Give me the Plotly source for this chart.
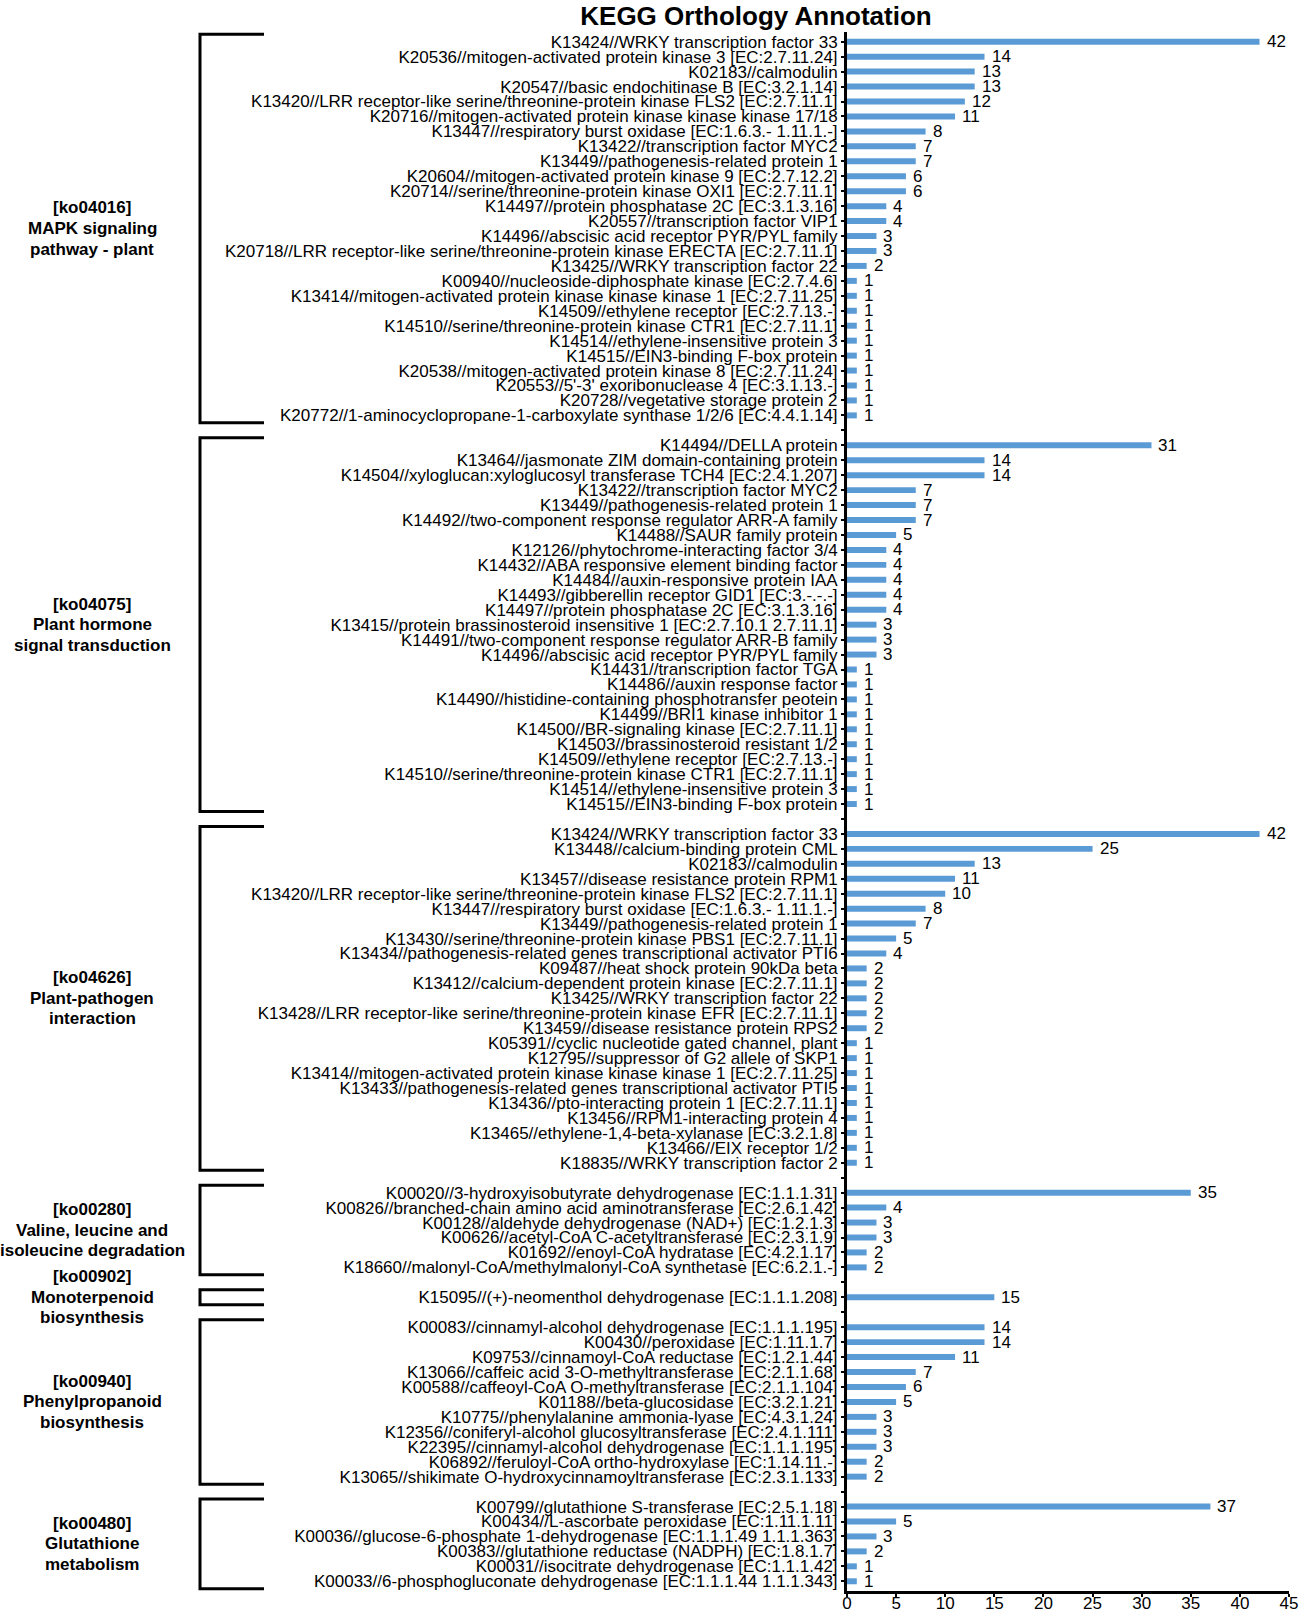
import plotly.graph_objects as go

# ---------------- data ----------------
group_names = [
    ["[ko04016]", "MAPK signaling", "pathway - plant"],
    ["[ko04075]", "Plant hormone", "signal transduction"],
    ["[ko04626]", "Plant-pathogen", "interaction"],
    ["[ko00280]", "Valine, leucine and", "isoleucine degradation"],
    ["[ko00902]", "Monoterpenoid", "biosynthesis"],
    ["[ko00940]", "Phenylpropanoid", "biosynthesis"],
    ["[ko00480]", "Glutathione", "metabolism"],
]

mapk_labels = [
    "K13424//WRKY transcription factor 33",
    "K20536//mitogen-activated protein kinase 3 [EC:2.7.11.24]",
    "K02183//calmodulin",
    "K20547//basic endochitinase B [EC:3.2.1.14]",
    "K13420//LRR receptor-like serine/threonine-protein kinase FLS2 [EC:2.7.11.1]",
    "K20716//mitogen-activated protein kinase kinase kinase 17/18",
    "K13447//respiratory burst oxidase [EC:1.6.3.- 1.11.1.-]",
    "K13422//transcription factor MYC2",
    "K13449//pathogenesis-related protein 1",
    "K20604//mitogen-activated protein kinase 9 [EC:2.7.12.2]",
    "K20714//serine/threonine-protein kinase OXI1 [EC:2.7.11.1]",
    "K14497//protein phosphatase 2C [EC:3.1.3.16]",
    "K20557//transcription factor VIP1",
    "K14496//abscisic acid receptor PYR/PYL family",
    "K20718//LRR receptor-like serine/threonine-protein kinase ERECTA [EC:2.7.11.1]",
    "K13425//WRKY transcription factor 22",
    "K00940//nucleoside-diphosphate kinase [EC:2.7.4.6]",
    "K13414//mitogen-activated protein kinase kinase kinase 1 [EC:2.7.11.25]",
    "K14509//ethylene receptor [EC:2.7.13.-]",
    "K14510//serine/threonine-protein kinase CTR1 [EC:2.7.11.1]",
    "K14514//ethylene-insensitive protein 3",
    "K14515//EIN3-binding F-box protein",
    "K20538//mitogen-activated protein kinase 8 [EC:2.7.11.24]",
    "K20553//5'-3' exoribonuclease 4 [EC:3.1.13.-]",
    "K20728//vegetative storage protein 2",
    "K20772//1-aminocyclopropane-1-carboxylate synthase 1/2/6 [EC:4.4.1.14]",
]
mapk_values = [42, 14, 13, 13, 12, 11, 8, 7, 7, 6, 6, 4, 4, 3, 3, 2, 1, 1, 1, 1, 1, 1, 1, 1, 1, 1]

hormone_labels = [
    "K14494//DELLA protein",
    "K13464//jasmonate ZIM domain-containing protein",
    "K14504//xyloglucan:xyloglucosyl transferase TCH4 [EC:2.4.1.207]",
    "K13422//transcription factor MYC2",
    "K13449//pathogenesis-related protein 1",
    "K14492//two-component response regulator ARR-A family",
    "K14488//SAUR family protein",
    "K12126//phytochrome-interacting factor 3/4",
    "K14432//ABA responsive element binding factor",
    "K14484//auxin-responsive protein IAA",
    "K14493//gibberellin receptor GID1 [EC:3.-.-.-]",
    "K14497//protein phosphatase 2C [EC:3.1.3.16]",
    "K13415//protein brassinosteroid insensitive 1 [EC:2.7.10.1 2.7.11.1]",
    "K14491//two-component response regulator ARR-B family",
    "K14496//abscisic acid receptor PYR/PYL family",
    "K14431//transcription factor TGA",
    "K14486//auxin response factor",
    "K14490//histidine-containing phosphotransfer peotein",
    "K14499//BRI1 kinase inhibitor 1",
    "K14500//BR-signaling kinase [EC:2.7.11.1]",
    "K14503//brassinosteroid resistant 1/2",
    "K14509//ethylene receptor [EC:2.7.13.-]",
    "K14510//serine/threonine-protein kinase CTR1 [EC:2.7.11.1]",
    "K14514//ethylene-insensitive protein 3",
    "K14515//EIN3-binding F-box protein",
]
hormone_values = [31, 14, 14, 7, 7, 7, 5, 4, 4, 4, 4, 4, 3, 3, 3, 1, 1, 1, 1, 1, 1, 1, 1, 1, 1]

pathogen_labels = [
    "K13424//WRKY transcription factor 33",
    "K13448//calcium-binding protein CML",
    "K02183//calmodulin",
    "K13457//disease resistance protein RPM1",
    "K13420//LRR receptor-like serine/threonine-protein kinase FLS2 [EC:2.7.11.1]",
    "K13447//respiratory burst oxidase [EC:1.6.3.- 1.11.1.-]",
    "K13449//pathogenesis-related protein 1",
    "K13430//serine/threonine-protein kinase PBS1 [EC:2.7.11.1]",
    "K13434//pathogenesis-related genes transcriptional activator PTI6",
    "K09487//heat shock protein 90kDa beta",
    "K13412//calcium-dependent protein kinase [EC:2.7.11.1]",
    "K13425//WRKY transcription factor 22",
    "K13428//LRR receptor-like serine/threonine-protein kinase EFR [EC:2.7.11.1]",
    "K13459//disease resistance protein RPS2",
    "K05391//cyclic nucleotide gated channel, plant",
    "K12795//suppressor of G2 allele of SKP1",
    "K13414//mitogen-activated protein kinase kinase kinase 1 [EC:2.7.11.25]",
    "K13433//pathogenesis-related genes transcriptional activator PTI5",
    "K13436//pto-interacting protein 1 [EC:2.7.11.1]",
    "K13456//RPM1-interacting protein 4",
    "K13465//ethylene-1,4-beta-xylanase [EC:3.2.1.8]",
    "K13466//EIX receptor 1/2",
    "K18835//WRKY transcription factor 2",
]
pathogen_values = [42, 25, 13, 11, 10, 8, 7, 5, 4, 2, 2, 2, 2, 2, 1, 1, 1, 1, 1, 1, 1, 1, 1]

valine_labels = [
    "K00020//3-hydroxyisobutyrate dehydrogenase [EC:1.1.1.31]",
    "K00826//branched-chain amino acid aminotransferase [EC:2.6.1.42]",
    "K00128//aldehyde dehydrogenase (NAD+) [EC:1.2.1.3]",
    "K00626//acetyl-CoA C-acetyltransferase [EC:2.3.1.9]",
    "K01692//enoyl-CoA hydratase [EC:4.2.1.17]",
    "K18660//malonyl-CoA/methylmalonyl-CoA synthetase [EC:6.2.1.-]",
]
valine_values = [35, 4, 3, 3, 2, 2]

mono_labels = ["K15095//(+)-neomenthol dehydrogenase [EC:1.1.1.208]"]
mono_values = [15]

phenyl_labels = [
    "K00083//cinnamyl-alcohol dehydrogenase [EC:1.1.1.195]",
    "K00430//peroxidase [EC:1.11.1.7]",
    "K09753//cinnamoyl-CoA reductase [EC:1.2.1.44]",
    "K13066//caffeic acid 3-O-methyltransferase [EC:2.1.1.68]",
    "K00588//caffeoyl-CoA O-methyltransferase [EC:2.1.1.104]",
    "K01188//beta-glucosidase [EC:3.2.1.21]",
    "K10775//phenylalanine ammonia-lyase [EC:4.3.1.24]",
    "K12356//coniferyl-alcohol glucosyltransferase [EC:2.4.1.111]",
    "K22395//cinnamyl-alcohol dehydrogenase [EC:1.1.1.195]",
    "K06892//feruloyl-CoA ortho-hydroxylase [EC:1.14.11.-]",
    "K13065//shikimate O-hydroxycinnamoyltransferase [EC:2.3.1.133]",
]
phenyl_values = [14, 14, 11, 7, 6, 5, 3, 3, 3, 2, 2]

glut_labels = [
    "K00799//glutathione S-transferase [EC:2.5.1.18]",
    "K00434//L-ascorbate peroxidase [EC:1.11.1.11]",
    "K00036//glucose-6-phosphate 1-dehydrogenase [EC:1.1.1.49 1.1.1.363]",
    "K00383//glutathione reductase (NADPH) [EC:1.8.1.7]",
    "K00031//isocitrate dehydrogenase [EC:1.1.1.42]",
    "K00033//6-phosphogluconate dehydrogenase [EC:1.1.1.44 1.1.1.343]",
]
glut_values = [37, 5, 3, 2, 1, 1]

x_tick_values = [0, 5, 10, 15, 20, 25, 30, 35, 40, 45]

groups = [
    (group_names[0], mapk_labels, mapk_values),
    (group_names[1], hormone_labels, hormone_values),
    (group_names[2], pathogen_labels, pathogen_values),
    (group_names[3], valine_labels, valine_values),
    (group_names[4], mono_labels, mono_values),
    (group_names[5], phenyl_labels, phenyl_values),
    (group_names[6], glut_labels, glut_values),
]

# ---------------- build slots (one blank slot between groups) ----------------
ypos, vals = [], []
tickvals, ticktext = [], []
spans = []
slot = 0
for gi, (name, labs, vs) in enumerate(groups):
    if gi > 0:
        tickvals.append(slot)
        ticktext.append("")
        slot += 1
    start = slot
    for lab, v in zip(labs, vs):
        ypos.append(slot)
        vals.append(v)
        tickvals.append(slot)
        ticktext.append(lab)
        slot += 1
    spans.append((name, start, slot - 1))
n_slots = slot

# ---------------- layout geometry ----------------
W, H = 1299, 1613
PL, PR = 847, 1289          # plot area left/right pixel
ROW = 14.95
FIRST = 41.5
PADS = 0.65
top = FIRST - PADS * ROW
bottom = FIRST + (n_slots - 1 + PADS) * ROW
GROUP_LINE = 20.6


def px_to_paper(px):
    return (px - PL) / (PR - PL)


FONT = "Arial, Liberation Sans, Helvetica, sans-serif"
BLUE = "#5B9BD5"

fig = go.Figure()
fig.add_trace(go.Bar(
    x=vals, y=ypos, orientation="h", width=0.4,
    marker=dict(color=BLUE, line=dict(width=0)),
    hoverinfo="x+y", showlegend=False,
))

annotations = []
for v, y in zip(vals, ypos):
    annotations.append(dict(
        x=v, y=y, xref="x", yref="y", text=str(v), showarrow=False,
        xanchor="left", yanchor="middle", xshift=5,
        font=dict(family=FONT, size=17, color="black"),
    ))

shapes = []
BX0, BX1 = 200, 264
for lines, s, e in spans:
    x0, x1 = px_to_paper(BX0), px_to_paper(BX1)
    y0, y1 = s - 0.5, e + 0.5
    shapes.append(dict(
        type="path", xref="paper", yref="y",
        path=f"M {x1},{y0} L {x0},{y0} L {x0},{y1} L {x1},{y1}",
        line=dict(color="black", width=3),
    ))
    nl = len(lines)
    for i, line in enumerate(lines):
        annotations.append(dict(
            x=px_to_paper(92), y=(s + e) / 2, xref="paper", yref="y",
            yshift=((nl - 1) / 2 - i) * GROUP_LINE,
            text="<b>" + line + "</b>",
            showarrow=False, xanchor="center", yanchor="middle", align="center",
            font=dict(family=FONT, size=17, color="black"),
        ))

fig.update_layout(
    width=W, height=H,
    template="none",
    paper_bgcolor="white", plot_bgcolor="white",
    margin=dict(l=PL, r=W - PR, t=top, b=H - bottom, pad=0, autoexpand=False),
    title=dict(
        text="<b>KEGG Orthology Annotation</b>",
        x=756 / W, xanchor="center", xref="container",
        y=1 - 16 / H, yanchor="middle", yref="container",
        font=dict(family=FONT, size=26, color="black"),
    ),
    xaxis=dict(
        range=[0, 45], tickvals=x_tick_values, ticks="outside", ticklen=3, tickwidth=2,
        tickcolor="black", showline=True, linecolor="black", linewidth=3,
        showgrid=False, zeroline=False, automargin=False, ticklabelstandoff=-8,
        tickfont=dict(family=FONT, size=17, color="black"),
    ),
    yaxis=dict(
        range=[n_slots - 1 + PADS, -PADS], tickvals=tickvals, ticktext=ticktext,
        ticks="outside", ticklen=3, tickwidth=2, tickcolor="black",
        showline=True, linecolor="black", linewidth=3,
        showgrid=False, zeroline=False, automargin=False,
        tickfont=dict(family=FONT, size=17, color="black"),
    ),
    bargap=0.6,
    shapes=shapes,
    annotations=annotations,
)

fig.write_html("out.html", config={"displayModeBar": False},
               post_script="document.body.style.margin='0px';")
